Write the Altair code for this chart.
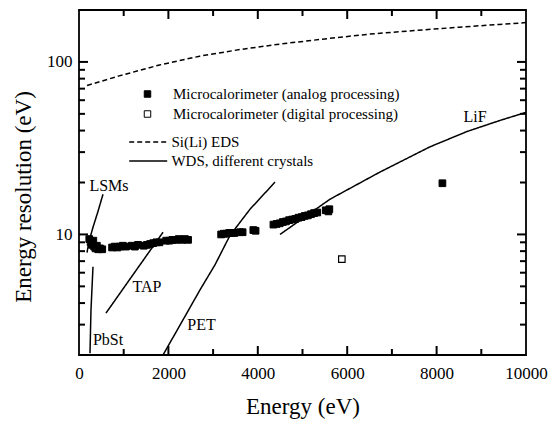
import altair as alt
import pandas as pd

FONT = "Liberation Serif"
W, H = 447, 345

# ---- data ----
eds_energy = [180, 900, 1800, 2700, 3600, 4500, 5500, 6500, 7500, 8500, 9400, 10000]
eds_res = [73, 83, 96, 108, 118, 127, 136, 145, 152, 159, 165, 169]

lsm_energy = [179, 224, 313, 425, 537]
lsm_res = [7.85, 9.1, 11.0, 13.6, 17.1]
pbst_energy = [246, 268, 313]
pbst_res = [2.05, 3.65, 6.5]
tap_energy = [604, 1240, 1880]
tap_res = [3.5, 6.0, 10.3]
pet_energy = [1879, 2260, 2707, 3043, 3378, 3826, 4385]
pet_res = [2.0, 2.98, 4.77, 6.67, 9.87, 14.0, 20.1]
lif_energy = [4497, 5615, 6734, 7852, 8680, 9418, 10000]
lif_res = [10.0, 16.0, 23.0, 32.2, 39.5, 45.8, 51.0]

analog_energy = [230, 260, 290, 320, 340, 370, 400, 430, 470, 520,
                 740, 800, 860, 920, 980, 1050,
                 1180, 1250, 1320,
                 1450, 1520, 1590, 1660, 1730, 1800,
                 1950, 2020, 2090, 2160, 2230, 2300, 2370, 2440,
                 3180, 3240, 3300, 3360, 3420, 3480, 3600, 3660, 3900, 3950,
                 4350, 4420, 4490, 4560, 4630, 4700, 4770, 4840, 4910, 4980,
                 5050, 5120, 5190, 5260, 5330, 5520, 5580, 5600,
                 8130]
analog_res = [9.4, 9.0, 8.7, 9.2, 8.5, 8.3, 8.6, 8.2, 8.3, 8.2,
              8.4, 8.5, 8.4, 8.5, 8.6, 8.5,
              8.6, 8.5, 8.7,
              8.6, 8.7, 8.8, 8.9, 9.0, 9.0,
              9.2, 9.2, 9.3, 9.3, 9.4, 9.3, 9.4, 9.3,
              10.0, 10.1, 10.1, 10.2, 10.2, 10.2, 10.3, 10.3, 10.6, 10.5,
              11.4, 11.5, 11.6, 11.8, 11.9, 12.1, 12.2, 12.3, 12.5, 12.6,
              12.8, 12.9, 13.1, 13.3, 13.4, 13.8, 13.6, 14.0,
              19.8]
digital_energy = [5880]
digital_res = [7.2]

label_text = ["LSMs", "TAP", "PET", "PbSt", "LiF"]
label_energy = [671, 1521, 2740, 649, 8859]
label_res = [19.1, 4.93, 2.98, 2.43, 47.9]

x_labels = [0, 2000, 4000, 6000, 8000, 10000]
x_minor = [1000, 3000, 5000, 7000, 9000]
x_major = [2000, 4000, 6000, 8000]
y_labels = [10, 100]
y_minor = [2, 3, 4, 5, 6, 7, 8, 9, 20, 30, 40, 50, 60, 70, 80, 90, 200]

EDS = "Si(Li) EDS"
WDS = "WDS, different crystals"
ANA = "Microcalorimeter (analog processing)"
DIG = "Microcalorimeter (digital processing)"

# ---- tables ----
eds_df = pd.DataFrame({"E": eds_energy, "R": eds_res, "kind": EDS, "crystal": "EDS"})
parts = []
for name, e, r in [("LSMs", lsm_energy, lsm_res), ("PbSt", pbst_energy, pbst_res),
                   ("TAP", tap_energy, tap_res), ("PET", pet_energy, pet_res),
                   ("LiF", lif_energy, lif_res)]:
    parts.append(pd.DataFrame({"E": e, "R": r, "kind": WDS, "crystal": name}))
wds_df = pd.concat(parts, ignore_index=True)
ana_df = pd.DataFrame({"E": analog_energy, "R": analog_res, "series": ANA})
dig_df = pd.DataFrame({"E": digital_energy, "R": digital_res, "series": DIG})
lab_df = pd.DataFrame({"E": label_energy, "R": label_res, "t": label_text})

xs = alt.Scale(domain=[0, 10000], nice=False, zero=False)
ys = alt.Scale(type="log", domain=[2, 200], nice=False)

x_axis = alt.Axis(
    orient="bottom", values=x_labels, ticks=False, tickSize=0, domain=False,
    grid=False, labelFlush=False, labelOverlap=False, labelPadding=10,
    format="d", title="Energy (eV)", titleY=58, titleBaseline="alphabetic")
y_axis = alt.Axis(
    orient="left", values=y_labels, ticks=False, tickSize=0, domain=False,
    grid=False, labelFlush=False, labelOverlap=False, labelPadding=7,
    format="d", title="Energy resolution (eV)", titleX=-49, titleY=186.5,
    titleAngle=270, titleAlign="center", titleBaseline="alphabetic")

X = alt.X("E:Q", scale=xs, axis=x_axis)
Y = alt.Y("R:Q", scale=ys, axis=y_axis)

dash_scale = alt.Scale(domain=[EDS, WDS], range=[[5, 3], [1, 0]])
fill_scale = alt.Scale(domain=[ANA, DIG], range=["black", "white"])

dash_legend = alt.Legend(orient="none", legendX=61.7, legendY=124.5, title=None,
                         symbolType="M-5,0H5", symbolSize=57.76, symbolStrokeWidth=1.5,
                         symbolStrokeColor="black", labelOffset=15.7, padding=0,
                         rowPadding=3, labelFont=FONT, labelFontSize=15,
                         labelColor="black", labelLimit=400)
fill_legend = alt.Legend(orient="none", legendX=61, legendY=76.5, title=None,
                         symbolType="square", symbolSize=42, symbolStrokeWidth=1,
                         symbolStrokeColor="black", symbolOpacity=1, labelOffset=18,
                         padding=0, rowPadding=4, labelFont=FONT, labelFontSize=15,
                         labelColor="black", labelLimit=400)

eds = alt.Chart(eds_df).mark_line(color="black", strokeWidth=1.5, clip=True).encode(
    x=X, y=Y,
    strokeDash=alt.StrokeDash("kind:N", scale=dash_scale, legend=dash_legend),
    detail="crystal:N",
)
wds = alt.Chart(wds_df).mark_line(color="black", strokeWidth=1.5, clip=True).encode(
    x=X, y=Y,
    strokeDash=alt.StrokeDash("kind:N", scale=dash_scale, legend=dash_legend),
    detail="crystal:N",
)
ana = alt.Chart(ana_df).mark_square(size=45, stroke="black", strokeWidth=1,
                                    opacity=1, clip=True).encode(
    x=X, y=Y,
    fill=alt.Fill("series:N", scale=fill_scale, legend=fill_legend),
)
dig = alt.Chart(dig_df).mark_square(size=42, stroke="black", strokeWidth=1.2,
                                    opacity=1, clip=True).encode(
    x=X, y=Y,
    fill=alt.Fill("series:N", scale=fill_scale, legend=fill_legend),
)
labels = alt.Chart(lab_df).mark_text(font=FONT, fontSize=16, color="black",
                                     align="center", baseline="middle").encode(
    x=X, y=Y, text="t:N",
)


# inward ticks on all four sides of the frame
def xticks(values, length, top):
    y0 = 0 if top else H
    y1 = length if top else H - length
    return alt.Chart(pd.DataFrame({"E": values})).mark_rule(
        color="black", strokeWidth=2).encode(
        x=X, y=alt.value(y0), y2=alt.value(y1))


def yticks(values, length, right):
    x0 = W if right else 0
    x1 = W - length if right else length
    return alt.Chart(pd.DataFrame({"R": values})).mark_rule(
        color="black", strokeWidth=2).encode(
        y=Y, x=alt.value(x0), x2=alt.value(x1))


ticks = [
    xticks(x_minor, 6, False), xticks(x_major, 9, False),
    xticks(x_minor, 6, True), xticks(x_major, 9, True),
    yticks(y_minor, 6, False), yticks(y_labels, 9, False),
    yticks(y_minor, 6, True), yticks(y_labels, 9, True),
]

chart = alt.layer(eds, wds, ana, dig, labels, *ticks).properties(
    width=W, height=H,
    autosize=alt.AutoSizeParams(type="none"),
    padding={"left": 79, "top": 10, "right": 29, "bottom": 66},
    background="white",
).configure_view(
    stroke="black", strokeWidth=1.8
).configure_axis(
    labelFont=FONT, labelFontSize=17, labelColor="black",
    titleFont=FONT, titleFontSize=23, titleFontWeight="normal", titleColor="black",
)

chart.save("out.html", embed_options={"renderer": "svg", "actions": False})
